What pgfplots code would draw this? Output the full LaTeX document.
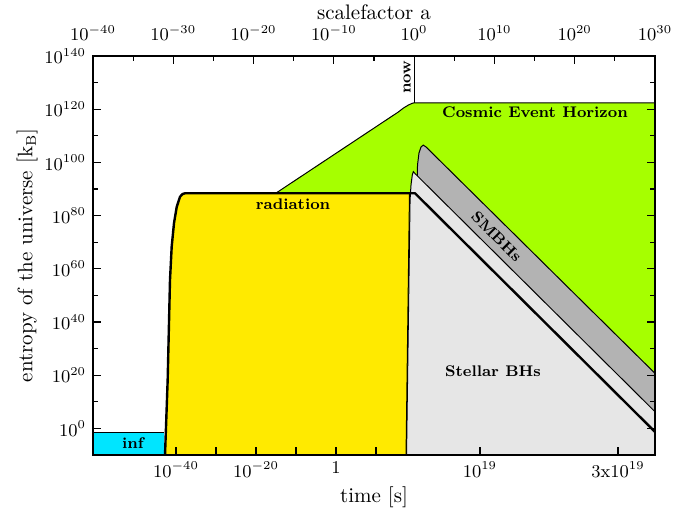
\documentclass[border=0pt]{standalone}
\usepackage{pgfplots}
\pgfplotsset{compat=1.18}
\definecolor{cyanfill}{RGB}{0,229,255}
\definecolor{yel}{RGB}{255,234,0}
\definecolor{lime}{RGB}{166,255,0}
\definecolor{lgray}{RGB}{230,230,230}
\definecolor{dgray}{RGB}{179,179,179}
\begin{document}
\begin{tikzpicture}
\pgfplotsset{
  every axis/.append style={
    scale only axis, width=281pt, height=199.5pt,
    xmin=-40, xmax=30, ymin=-10, ymax=140,
    major tick length=4pt, minor tick length=2.5pt,
    every tick/.style={black, line width=0.6pt},
    tick label style={font=\fontsize{9}{10}\selectfont},
    label style={font=\fontsize{10.5}{12}\selectfont},
    axis line style={line width=0.75pt},
  }
}
\begin{axis}[
  axis on top,
  xtick pos=left, ytick pos=both, yticklabel pos=left,
  xtick={-29.66,-24.68,-19.70,-14.72,-9.73,-4.75,8.20,25.39},
  xticklabels={$10^{-40}$,,$10^{-20}$,,$1$,,$10^{19}$,$3\mathrm{x}10^{19}$},
  ytick={0,20,40,60,80,100,120,140},
  yticklabels={$10^{0}$,$10^{20}$,$10^{40}$,$10^{60}$,$10^{80}$,$10^{100}$,$10^{120}$,$10^{140}$},
  minor ytick={10,30,50,70,90,110,130},
  xlabel={time [s]},
  ylabel={entropy of the universe [k$_\mathrm{B}$]},
  xlabel style={at={(axis description cs:0.5,-0.105)}, anchor=center},
  ylabel style={at={(axis description cs:-0.117,0.5)}, anchor=center},
]
% cosmic event horizon
\addplot[fill=lime, draw=none] coordinates {(-17.24,88.4) (-2.0,118.9) (-1.3,120.5) (-0.7,121.6) (-0.25,122.2) (0,122.4) (30,122.4) (30,-10) (-17.24,-10)} -- cycle;
\addplot[black, line width=0.5pt] coordinates {(-17.24,88.4) (-2.0,118.9) (-1.3,120.5) (-0.7,121.6) (-0.25,122.2) (0,122.4) (30,122.4)};
\addplot[black, line width=0.5pt] coordinates {(0,122.4) (0,140)};
% inflation
\addplot[fill=cyanfill, draw=none] coordinates {(-40,-10) (-40,-1.4) (-31.1,-1.4) (-31.1,-10)} -- cycle;
\addplot[black, line width=0.5pt] coordinates {(-40,-1.4) (-31.1,-1.4)};
% SMBHs
\addplot[fill=dgray, draw=black, line width=0.5pt] coordinates {(-0.89,-10) (0.29,78.3) (0.36,89.6) (0.42,99.0) (0.60,103.5) (0.85,105.8) (1.14,106.5) (1.48,105.8) (30,20.7) (30,-10)} -- cycle;
% stellar BHs
\addplot[fill=lgray, draw=black, line width=0.5pt] coordinates {(-0.95,-10) (-0.77,29.5) (-0.51,85.9) (-0.39,91.5) (-0.23,95.3) (-0.10,96.5) (0.11,95.8) (30,6.28) (30,-10)} -- cycle;
% radiation
\addplot[fill=yel, draw=black, line width=0.5pt] coordinates {(-31.03,-10) (-30.70,18.2) (-30.41,55.8) (-30.20,68.3) (-29.91,77.2) (-29.57,83.3) (-29.16,87.1) (-28.85,88.1) (-28.54,88.4) (-0.58,88.4) (-1.01,-10)} -- cycle;
% thick line
\addplot[black, line width=1.2pt, line join=round] coordinates {(-31.03,-10) (-30.70,18.2) (-30.41,55.8) (-30.20,68.3) (-29.91,77.2) (-29.57,83.3) (-29.16,87.1) (-28.85,88.1) (-28.54,88.4) (0.107,88.4) (30,-1.3)};
% labels
\node[font=\fontsize{7.7}{9}\selectfont\bfseries] at (axis cs:-15.09,84.4) {radiation};
\node[font=\fontsize{7.7}{9}\selectfont\bfseries] at (axis cs:15.05,118.7) {Cosmic Event Horizon};
\node[font=\fontsize{7.7}{9}\selectfont\bfseries, rotate=-45, inner sep=0pt] at (axis cs:10.28,72.07) {SMBHs};
\node[font=\fontsize{7.7}{9}\selectfont\bfseries] at (axis cs:9.82,21.6) {Stellar BHs};
\node[font=\fontsize{7.7}{9}\selectfont\bfseries] at (axis cs:-35.02,-5.5) {inf};
\node[font=\fontsize{7.7}{9}\selectfont\bfseries, rotate=90, anchor=south, inner sep=1.5pt] at (axis cs:0,132.1) {now};
\end{axis}
\begin{axis}[
  axis x line*=top, hide y axis,
  xtick={-40,-30,-20,-10,0,10,20,30},
  minor xtick={-35,-25,-15,-5,5,15,25},
  xticklabels={$10^{-40}$,$10^{-30}$,$10^{-20}$,$10^{-10}$,$10^{0}$,$10^{10}$,$10^{20}$,$10^{30}$},
  xticklabel style={yshift=4pt},
  xlabel={scalefactor a},
  xlabel style={at={(axis description cs:0.5,1.110)}, anchor=center},
]
\addplot[draw=none] coordinates {(-40,-10) (30,140)};
\end{axis}
\pgfresetboundingbox
\path (-46.5pt,-28pt) rectangle (303pt,227.5pt);
\end{tikzpicture}
\end{document}
